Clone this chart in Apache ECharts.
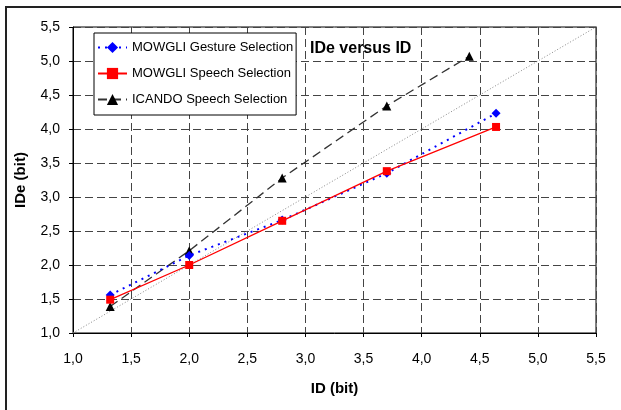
<!DOCTYPE html>
<html>
<head>
<meta charset="utf-8">
<script src="https://cdn.jsdelivr.net/npm/echarts@6/dist/echarts.min.js"></script>
<style>
html,body{margin:0;padding:0;background:#fff;}
#c{width:621px;height:410px;}
</style>
</head>
<body>
<div id="c"></div>
<script>
var seriesNames = ['MOWGLI Gesture Selection', 'MOWGLI Speech Selection', 'ICANDO Speech Selection'];
var gestureX = [1.32, 2.0, 2.8, 3.7, 4.64];
var gestureY = [1.56, 2.14, 2.66, 3.35, 4.23];
var speechX = [1.32, 2.0, 2.8, 3.7, 4.64];
var speechY = [1.49, 2.0, 2.65, 3.38, 4.03];
var icandoX = [1.32, 2.0, 2.8, 3.7, 4.41];
var icandoY = [1.39, 2.21, 3.28, 4.34, 5.07];
var diagonal = [[1.0, 1.0], [5.55, 5.55]];
var axisMin = 1.0, axisMax = 5.5, axisStep = 0.5;

function pairs(xs, ys) { return xs.map(function (x, i) { return [x, ys[i]]; }); }
function fmt(v) { return v.toFixed(1).replace('.', ','); }

var font = 'Liberation Sans, Arial, sans-serif';
var gridLine = { show: true, lineStyle: { color: '#444', type: [8, 4], width: 1 } };

var chart = echarts.init(document.getElementById('c'));
chart.setOption({
  animation: false,
  backgroundColor: '#fff',
  title: {
    text: 'IDe versus ID', left: 305, top: 36,
    textStyle: { fontFamily: font, fontSize: 16, fontWeight: 'bold', color: '#000' }
  },
  legend: {
    orient: 'vertical', left: 94, top: 33,
    data: seriesNames,
    backgroundColor: '#fff', borderColor: '#000', borderWidth: 1,
    padding: [8, 3, 9, 3], itemGap: 13, itemWidth: 29, itemHeight: 14,
    textStyle: { fontFamily: font, fontSize: 13, color: '#000' }
  },
  grid: { left: 73, top: 27, right: 25, bottom: 77, show: true, borderColor: '#000', borderWidth: 1 },
  xAxis: {
    type: 'value', min: axisMin, max: axisMax, interval: axisStep,
    name: 'ID (bit)', nameLocation: 'middle', nameGap: 48,
    nameTextStyle: { fontFamily: font, fontSize: 15, fontWeight: 'bold', color: '#000' },
    axisLine: { show: true, onZero: false, lineStyle: { color: '#000', width: 1 } },
    axisTick: { show: true, length: 4, lineStyle: { color: '#000' } },
    axisLabel: { formatter: fmt, fontFamily: font, fontSize: 14, color: '#000', margin: 19 },
    splitLine: gridLine
  },
  yAxis: {
    type: 'value', min: axisMin, max: axisMax, interval: axisStep,
    name: 'IDe (bit)', nameLocation: 'middle', nameGap: 45, nameRotate: 90,
    nameTextStyle: { fontFamily: font, fontSize: 15, fontWeight: 'bold', color: '#000' },
    axisLine: { show: true, onZero: false, lineStyle: { color: '#000', width: 1 } },
    axisTick: { show: true, length: 4, lineStyle: { color: '#000' } },
    axisLabel: { formatter: fmt, fontFamily: font, fontSize: 14, color: '#000', margin: 13 },
    splitLine: gridLine
  },
  graphic: [
    { type: 'polyline', shape: { points: [[6, 410], [6, 7], [621, 7]] }, style: { stroke: '#222', lineWidth: 2, fill: null }, z: 100 }
  ],
  series: [
    {
      name: 'diag', type: 'line', data: diagonal, symbol: 'none', silent: true, clip: false,
      lineStyle: { color: '#888', width: 1, type: [1, 2] }, z: 1
    },
    {
      name: seriesNames[0], type: 'line', data: pairs(gestureX, gestureY),
      symbol: 'diamond', symbolSize: 9,
      itemStyle: { color: '#0000ff' },
      lineStyle: { color: '#0000ff', width: 2, type: [2, 5] }, z: 3
    },
    {
      name: seriesNames[1], type: 'line', data: pairs(speechX, speechY),
      symbol: 'rect', symbolSize: 8,
      itemStyle: { color: '#ff0000' },
      lineStyle: { color: '#ff0000', width: 1.3, type: 'solid' }, z: 4
    },
    {
      name: seriesNames[2], type: 'line', data: pairs(icandoX, icandoY),
      symbol: 'triangle', symbolSize: 9,
      itemStyle: { color: '#000' },
      lineStyle: { color: '#333', width: 1.3, type: [9, 5] }, z: 2
    }
  ]
});
</script>
</body>
</html>
